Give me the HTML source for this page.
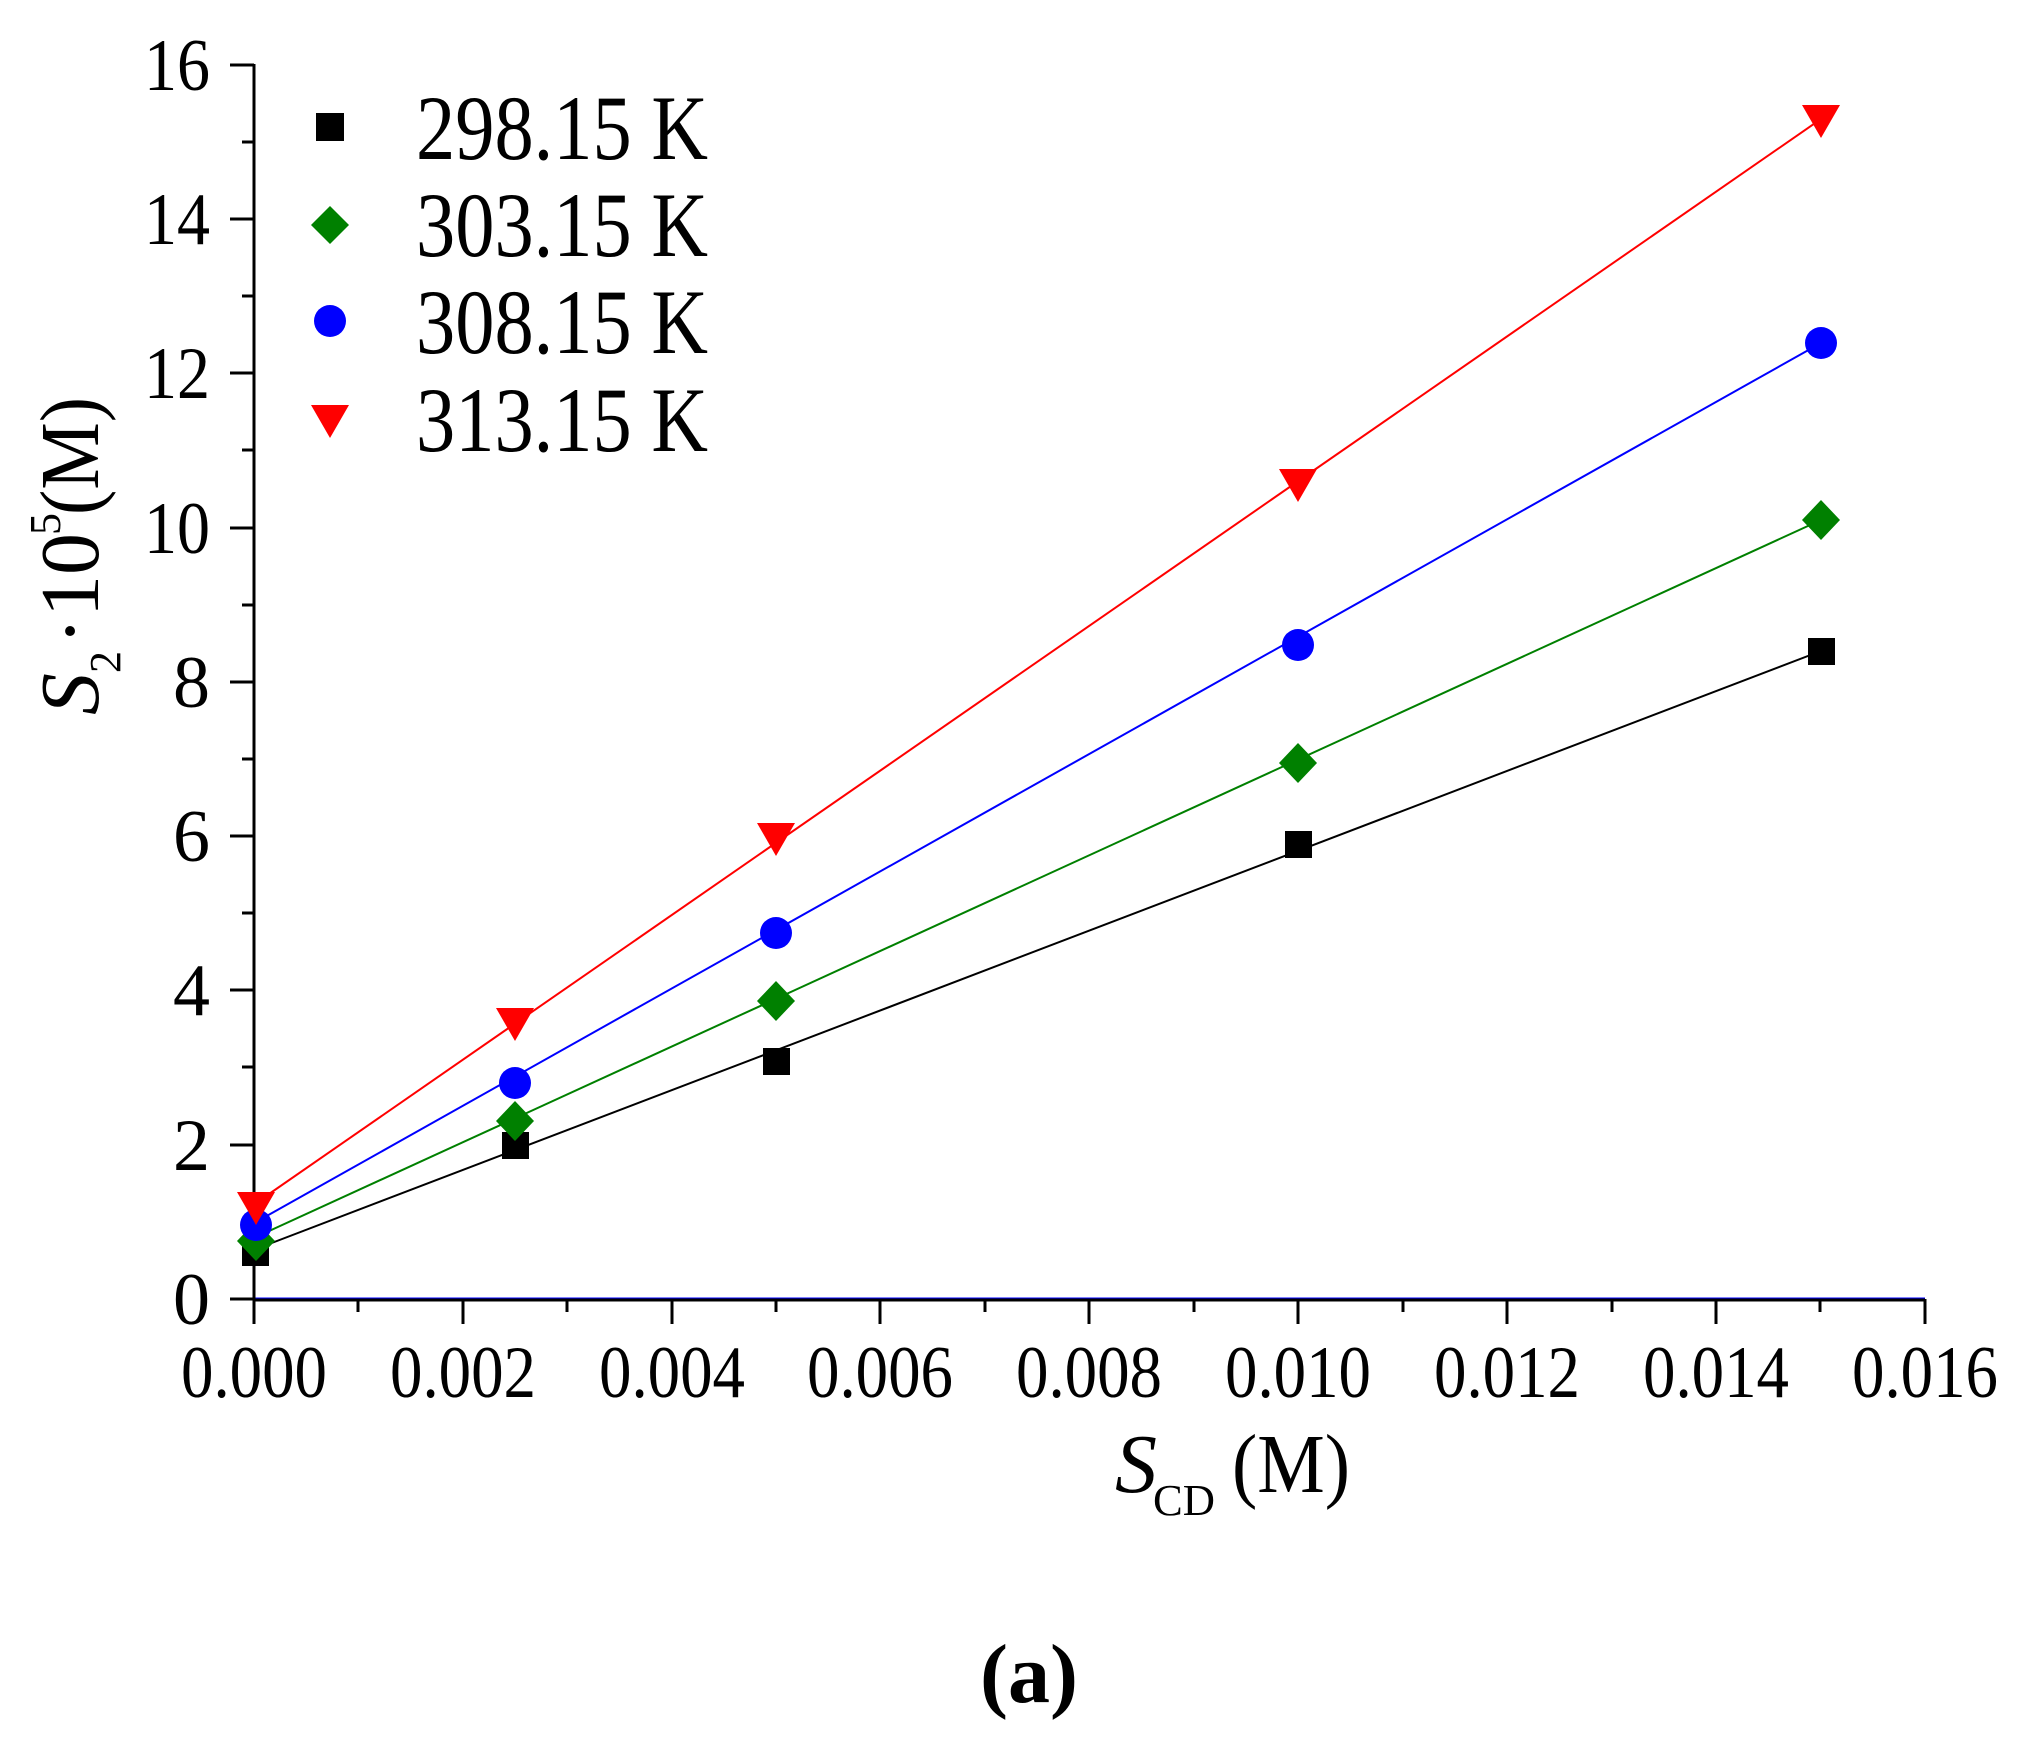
<!DOCTYPE html>
<html><head><meta charset="utf-8"><style>html,body{margin:0;padding:0;background:#fff}svg{display:block}</style></head>
<body>
<svg width="2024" height="1744" viewBox="0 0 2024 1744" xmlns="http://www.w3.org/2000/svg" font-family="Liberation Serif, serif">
<rect width="2024" height="1744" fill="#fff"/>
<line x1="256" y1="1249" x2="1821" y2="651" stroke="#000" stroke-width="2"/>
<line x1="256" y1="1237" x2="1821" y2="520" stroke="#008000" stroke-width="2"/>
<line x1="256" y1="1222" x2="1821" y2="343" stroke="#0000ff" stroke-width="2"/>
<line x1="256" y1="1203" x2="1821" y2="119" stroke="#ff0000" stroke-width="2"/>
<line x1="254" y1="1299" x2="1925" y2="1299" stroke="#0000ff" stroke-width="3"/>
<g stroke="#000" stroke-width="3" fill="none">
<line x1="254" y1="64" x2="254" y2="1300"/>
<line x1="254" y1="1300" x2="1925" y2="1300"/>
<line x1="230" y1="65" x2="254" y2="65"/><line x1="242" y1="142" x2="254" y2="142"/>
<line x1="230" y1="219" x2="254" y2="219"/><line x1="242" y1="296" x2="254" y2="296"/>
<line x1="230" y1="373" x2="254" y2="373"/><line x1="242" y1="450" x2="254" y2="450"/>
<line x1="230" y1="528" x2="254" y2="528"/><line x1="242" y1="605" x2="254" y2="605"/>
<line x1="230" y1="682" x2="254" y2="682"/><line x1="242" y1="759" x2="254" y2="759"/>
<line x1="230" y1="836" x2="254" y2="836"/><line x1="242" y1="913" x2="254" y2="913"/>
<line x1="230" y1="990" x2="254" y2="990"/><line x1="242" y1="1067" x2="254" y2="1067"/>
<line x1="230" y1="1145" x2="254" y2="1145"/><line x1="242" y1="1222" x2="254" y2="1222"/>
<line x1="230" y1="1299" x2="254" y2="1299"/>
<line x1="254" y1="1299" x2="254" y2="1324"/><line x1="358" y1="1299" x2="358" y2="1312"/>
<line x1="463" y1="1299" x2="463" y2="1324"/><line x1="567" y1="1299" x2="567" y2="1312"/>
<line x1="672" y1="1299" x2="672" y2="1324"/><line x1="776" y1="1299" x2="776" y2="1312"/>
<line x1="880" y1="1299" x2="880" y2="1324"/><line x1="985" y1="1299" x2="985" y2="1312"/>
<line x1="1089" y1="1299" x2="1089" y2="1324"/><line x1="1194" y1="1299" x2="1194" y2="1312"/>
<line x1="1298" y1="1299" x2="1298" y2="1324"/><line x1="1403" y1="1299" x2="1403" y2="1312"/>
<line x1="1507" y1="1299" x2="1507" y2="1324"/><line x1="1612" y1="1299" x2="1612" y2="1312"/>
<line x1="1716" y1="1299" x2="1716" y2="1324"/><line x1="1820" y1="1299" x2="1820" y2="1312"/>
<line x1="1925" y1="1299" x2="1925" y2="1324"/>
</g>
<g font-size="74" text-anchor="end" fill="#000">
<text x="210" y="90" textLength="66" lengthAdjust="spacingAndGlyphs">16</text>
<text x="210" y="244" textLength="66" lengthAdjust="spacingAndGlyphs">14</text>
<text x="210" y="398" textLength="66" lengthAdjust="spacingAndGlyphs">12</text>
<text x="210" y="553" textLength="66" lengthAdjust="spacingAndGlyphs">10</text>
<text x="210" y="707">8</text><text x="210" y="861">6</text>
<text x="210" y="1015">4</text><text x="210" y="1170">2</text><text x="210" y="1324">0</text>
</g>
<g font-size="74" fill="#000">
<text x="181" y="1397" textLength="146" lengthAdjust="spacingAndGlyphs">0.000</text>
<text x="390" y="1397" textLength="146" lengthAdjust="spacingAndGlyphs">0.002</text>
<text x="599" y="1397" textLength="146" lengthAdjust="spacingAndGlyphs">0.004</text>
<text x="807" y="1397" textLength="146" lengthAdjust="spacingAndGlyphs">0.006</text>
<text x="1016" y="1397" textLength="146" lengthAdjust="spacingAndGlyphs">0.008</text>
<text x="1225" y="1397" textLength="146" lengthAdjust="spacingAndGlyphs">0.010</text>
<text x="1434" y="1397" textLength="146" lengthAdjust="spacingAndGlyphs">0.012</text>
<text x="1643" y="1397" textLength="146" lengthAdjust="spacingAndGlyphs">0.014</text>
<text x="1852" y="1397" textLength="146" lengthAdjust="spacingAndGlyphs">0.016</text>
</g>
<text x="1115" y="1492" font-size="84" font-style="italic">S</text>
<text x="1153" y="1515" font-size="44" textLength="62" lengthAdjust="spacingAndGlyphs">CD</text>
<text x="1232" y="1492" font-size="84" textLength="118" lengthAdjust="spacingAndGlyphs">(M)</text>
<g transform="translate(98,715) rotate(-90)">
<text x="0" y="0" font-size="84" font-style="italic">S</text>
<text x="42" y="22" font-size="44">2</text>
<text x="70" y="0" font-size="84">·10</text>
<text x="180" y="-38" font-size="44">5</text>
<text x="200" y="0" font-size="84" textLength="118" lengthAdjust="spacingAndGlyphs">(M)</text>
</g>
<text x="1029" y="1702" font-size="84" font-weight="bold" text-anchor="middle">(a)</text>
<g fill="#000">
<rect x="242" y="1239" width="27" height="27"/><rect x="502" y="1132" width="27" height="27"/>
<rect x="763" y="1048" width="27" height="27"/><rect x="1285" y="831" width="27" height="27"/>
<rect x="1808" y="638" width="27" height="27"/>
</g>
<g fill="#008000">
<polygon points="256,1221 275,1241 256,1261 237,1241"/>
<polygon points="515,1101 534,1121 515,1141 496,1121"/>
<polygon points="776,981 795,1001 776,1021 757,1001"/>
<polygon points="1298,743 1317,763 1298,783 1279,763"/>
<polygon points="1821,500 1840,520 1821,540 1802,520"/>
</g>
<g fill="#0000ff">
<circle cx="256" cy="1225" r="16"/><circle cx="515" cy="1083" r="16"/>
<circle cx="776" cy="933" r="16"/><circle cx="1298" cy="645" r="16"/>
<circle cx="1821" cy="343" r="16"/>
</g>
<g fill="#ff0000">
<polygon points="237,1192 275,1192 256,1225"/>
<polygon points="496,1008 534,1008 515,1041"/>
<polygon points="757,823 795,823 776,856"/>
<polygon points="1279,469 1317,469 1298,502"/>
<polygon points="1802,105 1840,105 1821,138"/>
</g>
<rect x="316" y="113" width="28" height="28" fill="#000"/>
<polygon points="330,206 349,225 330,244 311,225" fill="#008000"/>
<circle cx="330" cy="321" r="16" fill="#0000ff"/>
<polygon points="311,405 349,405 330,438" fill="#ff0000"/>
<g font-size="92" fill="#000">
<text x="416" y="159" textLength="292" lengthAdjust="spacingAndGlyphs">298.15 K</text>
<text x="416" y="256" textLength="292" lengthAdjust="spacingAndGlyphs">303.15 K</text>
<text x="416" y="353" textLength="292" lengthAdjust="spacingAndGlyphs">308.15 K</text>
<text x="416" y="451" textLength="292" lengthAdjust="spacingAndGlyphs">313.15 K</text>
</g>
</svg>
</body></html>
